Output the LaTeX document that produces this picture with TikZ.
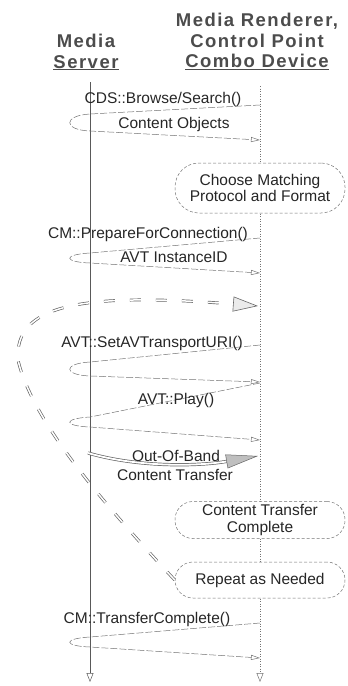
\documentclass[tikz,border=0pt]{standalone}
\usepackage{fontspec}
\setmainfont{Liberation Sans}
\newfontfamily\headfont[LetterSpace=8]{Liberation Sans}
\usepackage{tikz}
\usetikzlibrary{arrows.meta}

\begin{document}
\begin{tikzpicture}[x=1pt,y=-1pt,
    every node/.style={text=black!85,font=\fontsize{15.5}{16.5}\selectfont},
    head/.style={font=\headfont\bfseries\fontsize{18.5}{20.5}\selectfont,text=black!70,align=center,anchor=north,inner sep=0pt},
    lbl/.style={anchor=base,inner sep=0pt},
    msg/.style={draw=black!55,line width=0.5pt,dash pattern=on 7pt off 2pt,-{Triangle[open,length=9pt,width=5pt,line width=0.5pt]}},
    statebox/.style={draw=black!55,densely dashed,line width=0.5pt,fill=white,rounded corners=18pt,minimum width=170pt,align=center,inner sep=0pt}]
                \useasboundingbox (0,0) rectangle (348,686);
                \node[head] (srvhead) at (86,34) {Media\\\underline{Server}};
                \node[head] (renhead) at (257,13) {Media Renderer,\\Control Point\\\underline{Combo Device}};
                % life lines
                \coordinate (srv) at (90,82);
                \coordinate (srvend) at (90,682);
                \coordinate (ren) at (260,86);
                \coordinate (renend) at (260,682);
                \draw[black!65,line width=0.8pt,-{Triangle[open,length=9pt,width=7pt,line width=0.5pt]}] (srv) -- (srvend);
                \draw[black!55,line width=0.5pt,dash pattern=on 1pt off 1.5pt,-{Triangle[open,length=9pt,width=7pt,line width=0.5pt]}] (ren) -- (renend);
                \node[statebox,minimum height=50pt,rounded corners=24pt] (choose) at (260,188) {Choose Matching\\Protocol and Format};
                \node[statebox,minimum height=37pt] (done) at (260,520) {Content Transfer\\Complete};
                \node[statebox,minimum height=36pt] (again) at (260,580) {Repeat as Needed};
                % calls and answers
                \foreach \n/\a/\b/\c/\d in {1/105/114/131/140,2/238/253/263/273,3/345/362/376/382,4/383/417/427/440,5/623/637/647/658}{
                    \coordinate (call\n) at (260,\a);
                    \coordinate (back\n) at (260,\d);
                    \draw[msg] (call\n) -- (90,\b) .. controls (63,\b+1.5) and (63,\c-1) .. (90,\c) -- (back\n);
                }
                \node[lbl] (browse) at (163,103) {CDS::Browse/Search()};
                \node[lbl] (objects) at (174,128) {Content Objects};
                \node[lbl] (prepare) at (148,238) {CM::PrepareForConnection()};
                \node[lbl] (instance) at (174,262) {AVT InstanceID};
                \node[lbl] (seturi) at (152,347) {AVT::SetAVTransportURI()};
                \node[lbl] (play) at (176,404) {AVT::Play()};
                \node[lbl] (oob) at (176,461) {Out-Of-Band};
                \node[lbl] (transfer) at (175,480) {Content Transfer};
                \node[lbl] (finish) at (147,623) {CM::TransferComplete()};
                % content stream
                \coordinate (oobstart) at (88,453);
                \coordinate (oobend) at (258,456);
                \draw[black!60,line width=0.7pt,double=white,double distance=1.8pt,-{Triangle[length=32pt,width=14pt,fill=black!25,line width=0.5pt]}] (oobstart) .. controls (140,468) and (200,466) .. (oobend);
                % repeat
                \coordinate (loopend) at (258,306);
                \draw[black!60,line width=0.7pt,double=white,double distance=1.5pt,dash pattern=on 11pt off 15pt,-{Triangle[open,length=25pt,width=15pt,fill=black!8,line width=0.6pt]}] (again.west) .. controls (100,500) and (32,420) .. (18,360) .. controls (14,305) and (80,292) .. (loopend);
            \end{tikzpicture}
\end{document}
